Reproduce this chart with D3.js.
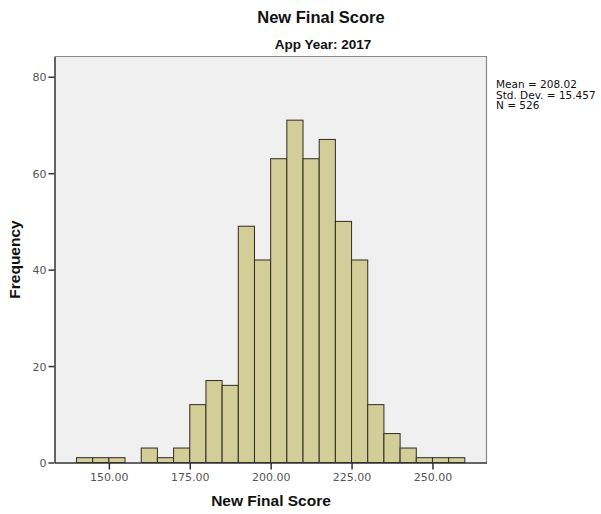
<!DOCTYPE html>
<html>
<head>
<meta charset="utf-8">
<script src="https://cdn.jsdelivr.net/npm/d3@7"></script>
<style>
  html, body { margin: 0; padding: 0; background: #fff; }
  svg { display: block; }
</style>
</head>
<body>
<svg id="chart" width="601" height="514"></svg>
<script>
// ---- Data ----
const binStarts = [140, 145, 150, 155, 160, 165, 170, 175, 180, 185, 190, 195,
                   200, 205, 210, 215, 220, 225, 230, 235, 240, 245, 250, 255];
const binWidth = 5;
const counts = [1, 1, 1, 0, 3, 1, 3, 12, 17, 16, 49, 42,
                63, 71, 63, 67, 50, 42, 12, 6, 3, 1, 1, 1];
const xTicks = [150, 175, 200, 225, 250];
const yTicks = [0, 20, 40, 60, 80];
const statLines = ["Mean = 208.02", "Std. Dev. = 15.457", "N = 526"];
const titleText = "New Final Score";
const subtitleText = "App Year: 2017";
const xLabel = "New Final Score";
const yLabel = "Frequency";

(function () {
const bins = binStarts.map((s, i) => ({ x0: s, x1: s + binWidth, n: counts[i] }));

// ---- Layout ----
const svg = d3.select("#chart");
const pLeft = 54.5, pRight = 486.5, pTop = 56.5, pBottom = 462.5;

const x = d3.scaleLinear().domain([133.2, 266.7]).range([pLeft, pRight]);
const y = d3.scaleLinear().domain([0, 84.2]).range([pBottom, pTop]);

// plot background
svg.append("rect")
  .attr("x", pLeft).attr("y", pTop)
  .attr("width", pRight - pLeft).attr("height", pBottom - pTop)
  .attr("fill", "#f0f0f0");

// top / right frame
svg.append("path")
  .attr("d", `M${pLeft},${pTop}H${pRight}V${pBottom}`)
  .attr("fill", "none").attr("stroke", "#8a8a8a").attr("stroke-width", 1.2);

// bars
svg.append("g").selectAll("rect").data(bins.filter(d => d.n > 0)).join("rect")
  .attr("x", d => x(d.x0))
  .attr("y", d => y(d.n))
  .attr("width", d => x(d.x1) - x(d.x0))
  .attr("height", d => y(0) - y(d.n))
  .attr("fill", "#d3ce97")
  .attr("stroke", "#2e2c22")
  .attr("stroke-width", 1);

// axes
const xAxis = svg.append("g")
  .attr("transform", `translate(0,${pBottom})`)
  .call(d3.axisBottom(x).tickValues(xTicks).tickFormat(d3.format(".2f"))
        .tickSizeInner(7).tickSizeOuter(0).tickPadding(4));
const yAxis = svg.append("g")
  .attr("transform", `translate(${pLeft},0)`)
  .call(d3.axisLeft(y).tickValues(yTicks).tickFormat(d3.format("d"))
        .tickSizeInner(6).tickSizeOuter(0).tickPadding(2));

[xAxis, yAxis].forEach(g => {
  g.select(".domain").attr("stroke", "#333").attr("stroke-width", 1.5);
  g.selectAll(".tick line").attr("stroke", "#333").attr("stroke-width", 1.5);
  g.selectAll(".tick text")
    .attr("fill", "#555")
    .style("font-family", "'DejaVu Sans', sans-serif")
    .style("font-size", "11px");
});
yAxis.selectAll(".tick text").attr("dy", "0.36em");

// titles
svg.append("text")
  .attr("x", 321).attr("y", 23)
  .attr("text-anchor", "middle")
  .style("font-family", "'Liberation Sans', Arial, sans-serif")
  .style("font-weight", "bold").style("font-size", "16.5px")
  .attr("fill", "#111")
  .text(titleText);

svg.append("text")
  .attr("x", 323).attr("y", 49)
  .attr("text-anchor", "middle")
  .style("font-family", "'Liberation Sans', Arial, sans-serif")
  .style("font-weight", "bold").style("font-size", "13.5px")
  .attr("fill", "#111")
  .text(subtitleText);

// axis labels
svg.append("text")
  .attr("x", 271).attr("y", 506)
  .attr("text-anchor", "middle")
  .style("font-family", "'Liberation Sans', Arial, sans-serif")
  .style("font-weight", "bold").style("font-size", "15.5px")
  .attr("fill", "#111")
  .text(xLabel);

svg.append("text")
  .attr("transform", `translate(20,${(pTop + pBottom) / 2}) rotate(-90)`)
  .attr("text-anchor", "middle")
  .style("font-family", "'Liberation Sans', Arial, sans-serif")
  .style("font-weight", "bold").style("font-size", "15.5px")
  .attr("fill", "#111")
  .text(yLabel);

// statistics block
svg.append("g").selectAll("text").data(statLines).join("text")
  .attr("x", 496)
  .attr("y", (d, i) => 88 + i * 10.5)
  .style("font-family", "'DejaVu Sans', sans-serif")
  .style("font-size", "10.5px")
  .attr("fill", "#111")
  .text(d => d);
})();
</script>
</body>
</html>
